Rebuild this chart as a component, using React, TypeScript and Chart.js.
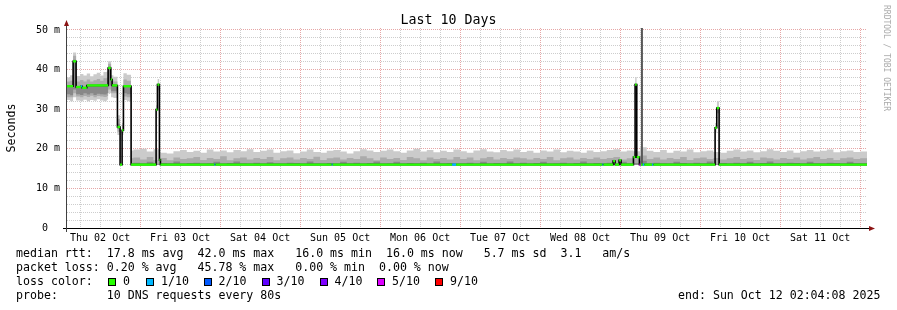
import React, { useEffect, useRef } from 'react';
import { Chart, registerables } from 'chart.js';

Chart.register(...registerables);

// ---------- time axis (hours since Thu 02 Oct 2025 00:00) ----------
const viewStartHour = 2.07;
const viewEndHour = 242.07;
const dayLabels = ['Thu 02 Oct', 'Fri 03 Oct', 'Sat 04 Oct', 'Sun 05 Oct', 'Mon 06 Oct', 'Tue 07 Oct', 'Wed 08 Oct', 'Thu 09 Oct', 'Fri 10 Oct', 'Sat 11 Oct'];
const yLabelValues = [0, 10, 20, 30, 40, 50];
const yTickLabels = ['0', '10 m', '20 m', '30 m', '40 m', '50 m'];
const yAxisTitle = 'Seconds';
const yMax = 50.5;

// ---------- loss colours ----------
const lossLabels = ['0', '1/10', '2/10', '3/10', '4/10', '5/10', '9/10'];
const lossColors = ['#26ff00', '#00b8ff', '#0059ff', '#5e00ff', '#7e00ff', '#dd00ff', '#ff0000'];

// ---------- median rtt (ms), value holds until next hour ----------
const medianHours = [2.07, 3.9, 4.8, 6.3, 6.6, 8.0, 14.4, 15.2, 15.6, 17.2, 18.0, 18.6, 19.0, 21.3, 28.8, 29.2, 29.8, 30.1, 46.3, 46.6, 81.5, 81.8, 117.6, 118.8, 162.7, 163.0, 165.9, 166.5, 167.7, 168.3, 172.0, 172.5, 173.0, 173.8, 174.2, 174.8, 175.3, 177.6, 178.0, 196.5, 197.0, 197.7, 242.07];
const medianValues = [35.8, 42.1, 35.6, 35.8, 35.4, 36.0, 40.4, 37.5, 36.0, 25.5, 16.0, 24.7, 35.8, 16.0, 29.9, 36.2, 17.2, 16.0, 16.0, 16.0, 16.0, 16.0, 16.0, 16.0, 16.0, 16.0, 16.9, 16.0, 17.1, 16.0, 17.9, 36.2, 17.9, 16.0, 16.0, 16.0, 16.0, 16.0, 16.0, 25.3, 30.3, 16.0, 16.0];
const medianLoss = [0, 0, 0, 1, 0, 0, 0, 0, 0, 0, 0, 0, 0, 0, 0, 0, 0, 0, 1, 0, 1, 0, 1, 0, 1, 0, 0, 0, 0, 0, 0, 0, 0, 5, 0, 1, 0, 1, 0, 0, 0, 0, 0];

// ---------- smoke, first day (ms) ----------
const earlyHours = [2.07, 3, 3.9, 4.8, 6, 7, 8, 9, 10, 11, 12, 13, 14, 14.4, 15.3, 16, 17.2, 18.0, 18.6, 19.0, 20, 21.3];
const earlyLightLo = [32.3, 32.0, 33.0, 32.2, 32.0, 32.4, 32.0, 32.3, 32.1, 32.5, 32.2, 32.0, 32.4, 34.0, 33.0, 32.8, 23.5, 16.0, 23.5, 32.3, 32.0, 32.0];
const earlyLightHi = [38.0, 38.6, 44.3, 38.4, 38.9, 38.5, 39.0, 38.3, 38.8, 39.2, 38.5, 39.4, 39.5, 42.1, 38.6, 38.2, 28.5, 16.0, 26.5, 39.1, 38.7, 38.7];
const earlyMidLo = [33.0, 33.0, 34.0, 33.2, 33.0, 33.3, 33.1, 33.4, 33.0, 33.3, 33.2, 33.1, 33.3, 35.0, 34.0, 34.0, 24.3, 16.0, 24.0, 33.2, 33.0, 33.0];
const earlyMidHi = [37.0, 37.2, 43.5, 37.0, 37.4, 37.0, 37.5, 37.0, 37.3, 37.6, 37.2, 37.8, 38.0, 41.5, 37.4, 37.0, 27.5, 16.0, 26.0, 37.5, 37.2, 37.2];
const earlyDarkLo = [33.8, 33.5, 35.0, 33.8, 33.6, 34.0, 33.7, 34.0, 33.6, 33.9, 33.8, 33.7, 34.0, 36.0, 34.5, 34.5, 25.0, 16.0, 24.5, 34.0, 33.8, 33.8];
const earlyDarkHi = [35.8, 35.9, 42.5, 35.6, 35.8, 35.5, 36.0, 36.1, 35.9, 36.2, 36.0, 36.0, 36.1, 40.8, 36.3, 36.0, 26.3, 16.0, 25.0, 36.0, 35.9, 35.9];

// ---------- smoke, rest of the period (tops above the 16 ms floor) ----------
const smokeFloor = 16.0;
const flatHours = [21.3, 22, 24, 26, 28, 30, 32, 34, 36, 38,
  40, 42, 44, 46, 48, 50, 52, 54, 56, 58,
  60, 62, 64, 66, 68, 70, 72, 74, 76, 78,
  80, 82, 84, 86, 88, 90, 92, 94, 96, 98,
  100, 102, 104, 106, 108, 110, 112, 114, 116, 118,
  120, 122, 124, 126, 128, 130, 132, 134, 136, 138,
  140, 142, 144, 146, 148, 150, 152, 154, 156, 158,
  160, 162, 164, 166, 168, 170, 172, 174, 176, 178,
  180, 182, 184, 186, 188, 190, 192, 194, 196, 198,
  200, 202, 204, 206, 208, 210, 212, 214, 216, 218,
  220, 222, 224, 226, 228, 230, 232, 234, 236, 238,
  240, 242.07];
const flatLightTop = [19.6, 19.8, 20.0, 19.3, 19.9, 19.0, 18.8, 19.4, 19.7, 19.2,
  19.5, 19.0, 19.8, 19.3, 19.6, 19.1, 19.7, 19.4, 19.9, 19.2,
  19.5, 19.8, 19.0, 19.4, 19.6, 18.9, 19.3, 19.8, 19.2, 19.0,
  19.5, 19.7, 19.3, 18.8, 19.4, 19.9, 19.6, 19.2, 19.5, 19.8,
  19.4, 19.0, 19.6, 20.0, 19.3, 19.7, 19.1, 19.5, 19.2, 19.8,
  19.4, 19.0, 19.6, 19.9, 19.3, 19.1, 19.7, 19.4, 19.8, 19.2,
  19.5, 19.0, 19.6, 19.3, 19.8, 19.1, 19.5, 19.3, 19.0, 19.6,
  19.2, 19.4, 19.7, 19.9, 19.3, 19.6, 19.4, 20.4, 19.5, 19.2,
  19.7, 19.0, 19.5, 19.3, 19.8, 19.1, 19.4, 19.6, 19.2, 19.0,
  19.5, 19.8, 19.3, 19.6, 19.1, 19.4, 19.9, 19.5, 19.2, 19.6,
  19.0, 19.4, 19.7, 19.3, 19.5, 19.8, 19.1, 19.4, 19.6, 19.2,
  19.3, 19.3];
const flatMidTop = [17.6, 17.8, 17.3, 17.9, 17.2, 17.7, 17.1, 17.8, 17.4, 17.6,
  17.9, 17.2, 17.7, 17.4, 18.1, 17.1, 17.6, 17.8, 17.3, 17.7,
  17.4, 17.9, 17.1, 17.6, 17.8, 17.3, 17.7, 17.4, 18.0, 17.2,
  17.6, 17.8, 17.3, 17.7, 17.4, 18.1, 17.6, 17.1, 17.8, 17.4,
  17.7, 17.2, 17.9, 17.6, 17.1, 17.8, 17.4, 17.7, 17.3, 17.9,
  17.4, 17.8, 17.1, 17.6, 17.9, 17.3, 17.7, 17.4, 17.8, 17.6,
  17.3, 17.7, 17.4, 17.9, 17.1, 17.6, 17.8, 17.3, 17.7, 17.4,
  17.8, 17.4, 17.7, 17.9, 17.3, 17.6, 17.7, 18.3, 17.4, 17.8,
  17.3, 17.7, 17.4, 17.9, 17.2, 17.6, 17.8, 17.4, 17.7, 17.3,
  17.6, 17.9, 17.4, 17.7, 17.2, 17.8, 17.6, 17.3, 17.7, 17.4,
  17.8, 17.3, 17.6, 17.9, 17.4, 17.7, 17.2, 17.6, 17.8, 17.4,
  17.6, 17.6];
const flatDarkTop = [16.3, 16.5, 16.2, 16.7, 16.2, 16.4, 16.3, 16.8, 16.2, 16.4,
  16.5, 16.2, 16.3, 16.7, 16.2, 16.4, 16.8, 16.3, 16.2, 16.5,
  16.2, 16.6, 16.3, 16.2, 16.5, 16.4, 16.2, 16.8, 16.3, 16.2,
  16.4, 16.2, 16.7, 16.3, 16.5, 16.2, 16.4, 16.8, 16.2, 16.3,
  16.7, 16.2, 16.4, 16.3, 16.5, 16.2, 16.8, 16.3, 16.4, 16.2,
  16.3, 16.5, 16.2, 16.7, 16.2, 16.4, 16.3, 16.8, 16.2, 16.5,
  16.2, 16.4, 16.7, 16.2, 16.3, 16.5, 16.2, 16.4, 16.8, 16.2,
  16.4, 16.3, 16.5, 16.2, 16.7, 16.3, 16.4, 17.0, 16.2, 16.5,
  16.3, 16.2, 16.7, 16.4, 16.2, 16.5, 16.3, 16.8, 16.2, 16.4,
  16.2, 16.5, 16.3, 16.7, 16.2, 16.4, 16.8, 16.2, 16.3, 16.5,
  16.4, 16.2, 16.7, 16.3, 16.2, 16.5, 16.4, 16.2, 16.7, 16.3,
  16.3, 16.3];

// ---------- smoke around the short spikes ----------
const spikeStart = [28.8, 29.2, 172.5, 196.5, 197.0];
const spikeEnd = [29.2, 29.8, 173.0, 197.0, 197.7];
const spikeLow = [28.4, 34.8, 35.0, 24.0, 29.0];
const spikeHigh = [31.0, 37.6, 38.1, 26.5, 32.0];

// ---------- single off-scale ping ----------
const outlierHours = [174.55];
const outlierLow = [16.0];
const outlierHigh = [51.0];

// ---------- legend text ----------
const medianLine = 'median rtt:  17.8 ms avg  42.0 ms max   16.0 ms min  16.0 ms now   5.7 ms sd  3.1   am/s';
const lossLine = 'packet loss: 0.20 % avg   45.78 % max   0.00 % min  0.00 % now';
const probeLine = 'probe:       10 DNS requests every 80s';
const endLine = 'end: Sun Oct 12 02:04:08 2025';

// layout constants
const MONO = '"DejaVu Sans Mono", monospace';
const LIGHT = '#cbcbcb';
const MID = '#ababab';
const DARK = '#888888';
const GRID_MINOR = '#cdcdcd';
const GRID_MAJOR = '#e6a6a6';
const swatchX = [108, 146, 203.5, 261.5, 319.5, 377, 435];

function buildDatasets() {
  const ds: any[] = [];
  const add = (d: any) => { ds.push(d); return ds.length - 1; };
  const pts = (xs: number[], ys: number[]) => xs.map((x, i) => ({ x, y: ys[i] }));
  // value of each point holds until the next point
  const base = { pointRadius: 0, pointHoverRadius: 0, tension: 0, stepped: 'before' };
  const band = (xs: number[], lo: number[], hi: number[], color: string) => {
    const loIdx = add({ ...base, data: pts(xs, lo), borderWidth: 0, borderColor: 'rgba(0,0,0,0)', fill: false });
    add({ ...base, data: pts(xs, hi), borderWidth: 0, borderColor: 'rgba(0,0,0,0)', backgroundColor: color, fill: loIdx });
  };
  // bottom -> top
  band(earlyHours, earlyLightLo, earlyLightHi, LIGHT);
  band(earlyHours, earlyMidLo, earlyMidHi, MID);
  band(earlyHours, earlyDarkLo, earlyDarkHi, DARK);
  add({ ...base, data: pts(flatHours, flatLightTop), borderWidth: 0, borderColor: 'rgba(0,0,0,0)', backgroundColor: LIGHT, fill: { value: smokeFloor } });
  add({ ...base, data: pts(flatHours, flatMidTop), borderWidth: 0, borderColor: 'rgba(0,0,0,0)', backgroundColor: MID, fill: { value: smokeFloor } });
  add({ ...base, data: pts(flatHours, flatDarkTop), borderWidth: 0, borderColor: 'rgba(0,0,0,0)', backgroundColor: DARK, fill: { value: smokeFloor } });
  spikeStart.forEach((s, i) => {
    band([s, spikeEnd[i]], [spikeLow[i], spikeLow[i]], [spikeHigh[i], spikeHigh[i]], LIGHT);
  });
  outlierHours.forEach((h, i) => {
    add({ data: [{ x: h, y: outlierLow[i] }, { x: h, y: outlierHigh[i] }], pointRadius: 0, borderColor: '#585858', borderWidth: 2, fill: false });
  });
  add({ ...base, data: pts(medianHours, medianValues), borderColor: '#000000', borderWidth: 1.6, fill: false });
  const seg: any[] = [];
  for (let i = 0; i < medianHours.length - 1; i++) {
    seg.push({ x: medianHours[i], y: medianValues[i] }, { x: medianHours[i + 1], y: medianValues[i] }, { x: medianHours[i + 1], y: null });
  }
  add({
    data: seg, pointRadius: 0, tension: 0, borderWidth: 2.4, borderColor: lossColors[0], fill: false, spanGaps: false,
    segment: { borderColor: (c: any) => lossColors[medianLoss[Math.floor(c.p0DataIndex / 3)]] },
  });
  ds.forEach((d, i) => { d.order = ds.length - i; });
  return ds;
}

const axisPlugin = {
  id: 'rrdAxes',
  afterDatasetsDraw(chart: any) {
    const { ctx, chartArea } = chart;
    const { left, right, top, bottom } = chartArea;
    ctx.save();
    ctx.lineWidth = 1;
    ctx.strokeStyle = '#000';
    ctx.beginPath();
    ctx.moveTo(left - 4, bottom + 0.5);
    ctx.lineTo(right + 4, bottom + 0.5);
    ctx.stroke();
    ctx.strokeStyle = '#404040';
    ctx.beginPath();
    ctx.moveTo(left - 0.5, bottom + 4);
    ctx.lineTo(left - 0.5, top - 4);
    ctx.stroke();
    ctx.fillStyle = '#8c1414';
    ctx.beginPath();
    ctx.moveTo(right + 2, bottom - 2);
    ctx.lineTo(right + 8, bottom + 0.5);
    ctx.lineTo(right + 2, bottom + 3);
    ctx.closePath();
    ctx.fill();
    ctx.beginPath();
    ctx.moveTo(left - 3, top - 2);
    ctx.lineTo(left - 0.5, top - 8);
    ctx.lineTo(left + 2, top - 2);
    ctx.closePath();
    ctx.fill();
    ctx.restore();
  },
};

export default function App() {
  const ref = useRef<HTMLCanvasElement>(null);
  useEffect(() => {
    if (!ref.current) return;
    const xTicks = Array.from({ length: 40 }, (_, i) => 6 + 6 * i);
    const yTicks = Array.from({ length: 26 }, (_, i) => 2 * i);
    const chart = new Chart(ref.current, {
      type: 'line',
      data: { datasets: buildDatasets() },
      options: {
        animation: false,
        responsive: false,
        devicePixelRatio: 1,
        events: [],
        layout: { padding: { top: 28, right: 30, left: 0, bottom: 0 } },
        plugins: { legend: { display: false }, tooltip: { enabled: false }, title: { display: false } },
        scales: {
          x: {
            type: 'linear',
            min: viewStartHour,
            max: viewEndHour,
            afterFit: (s: any) => { s.height = 82; },
            afterBuildTicks: (s: any) => { s.ticks = xTicks.map((v) => ({ value: v })); },
            ticks: {
              autoSkip: false, maxRotation: 0, minRotation: 0, padding: 4, color: '#000',
              font: { family: MONO, size: 10 },
              callback: (v: any) => (v % 24 === 12 ? dayLabels[(v - 12) / 24] : ''),
            },
            grid: {
              drawTicks: false, lineWidth: 1,
              color: (c: any) => (c.tick && c.tick.value % 24 === 0 ? GRID_MAJOR : GRID_MINOR),
            },
            border: { display: false, dash: [1, 1] },
          },
          y: {
            type: 'linear',
            min: 0,
            max: yMax,
            afterFit: (s: any) => { s.width = 67; },
            afterBuildTicks: (s: any) => { s.ticks = yTicks.map((v) => ({ value: v })); },
            title: {
              display: true, text: yAxisTitle, color: '#000',
              font: { family: MONO, size: 11.6, lineHeight: 1 },
              padding: { top: 6, bottom: 0 },
            },
            ticks: {
              autoSkip: false, padding: 7, color: '#000',
              font: { family: MONO, size: 10 },
              callback: (v: any) => {
                const k = yLabelValues.indexOf(v);
                if (k < 0) return '';
                return v === 0 ? yTickLabels[k] + '  ' : yTickLabels[k];
              },
            },
            grid: {
              drawTicks: false, lineWidth: 1,
              color: (c: any) => (c.tick && c.tick.value % 10 === 0 ? GRID_MAJOR : GRID_MINOR),
            },
            border: { display: false, dash: [1, 1] },
          },
        },
      },
      plugins: [axisPlugin],
    } as any);
    return () => chart.destroy();
  }, []);

  const txt = (top: number, left: number, s: string, size = 11.6, extra: any = {}) => (
    <div style={{ position: 'absolute', top, left, fontFamily: MONO, fontSize: size, lineHeight: 1, whiteSpace: 'pre', color: '#000', ...extra }}>{s}</div>
  );

  return (
    <div style={{ position: 'absolute', left: 0, top: 0, width: 897, height: 310, background: '#fff', overflow: 'hidden' }}>
      <canvas ref={ref} width={897} height={310} style={{ position: 'absolute', left: 0, top: 0, width: 897, height: 310 }} />
      <div style={{ position: 'absolute', top: 12.75, left: 0, width: 897, textAlign: 'center', fontFamily: MONO, fontSize: 13.3, lineHeight: 1, color: '#000' }}>Last 10 Days</div>
      <div style={{ position: 'absolute', left: 886, top: 58, transform: 'translate(-50%, -50%) rotate(90deg)', fontFamily: MONO, fontSize: 8, lineHeight: 1, whiteSpace: 'pre', color: '#aaaaaa' }}>RRDTOOL / TOBI OETIKER</div>
      {txt(247.9, 16, medianLine)}
      {txt(261.9, 16, lossLine)}
      {txt(275.9, 16, 'loss color:')}
      {lossLabels.map((l, i) => (
        <React.Fragment key={l}>
          <div style={{ position: 'absolute', left: swatchX[i], top: 278, width: 6, height: 6, border: '1px solid #000', background: lossColors[i] }} />
          {txt(275.9, swatchX[i] + 15, l)}
        </React.Fragment>
      ))}
      {txt(289.9, 16, probeLine)}
      {txt(289.9, 678, endLine)}
    </div>
  );
}
